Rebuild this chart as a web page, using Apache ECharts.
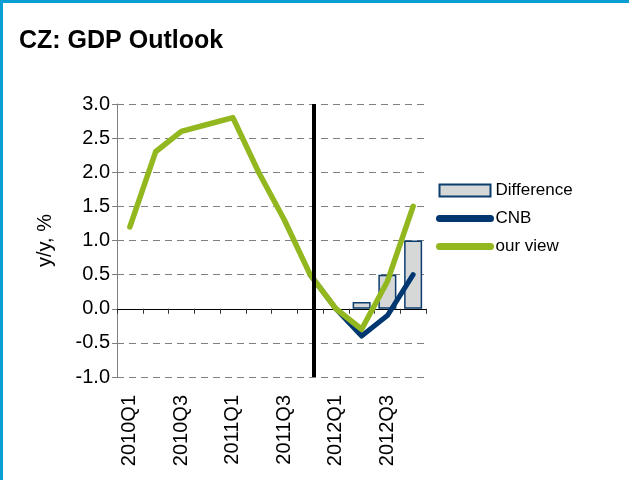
<!DOCTYPE html>
<html>
<head>
<meta charset="utf-8">
<script src="https://cdn.jsdelivr.net/npm/echarts@6/dist/echarts.min.js"></script>
<style>
  html, body { margin: 0; padding: 0; background: #fff; }
  #chart { position: absolute; left: 0; top: 0; width: 629px; height: 480px; }
  #frame { position: absolute; left: 0; top: 0; width: 629px; height: 480px; box-sizing: border-box;
           border-top: 3px solid #0a9fd3; border-left: 3px solid #0a9fd3; pointer-events: none; }
</style>
</head>
<body>
<div id="chart"></div>
<div id="frame"></div>
<script>
const categories = ['2010Q1','2010Q2','2010Q3','2010Q4','2011Q1','2011Q2','2011Q3','2011Q4','2012Q1','2012Q2','2012Q3','2012Q4'];
const difference = [null, null, null, null, null, null, null, null, null, 0.1, 0.5, 1.0];
const cnb        = [null, null, null, null, null, null, null, 0.5, 0.0, -0.4, -0.1, 0.5];
const ourView    = [1.2, 2.3, 2.6, 2.7, 2.8, 2.0, 1.3, 0.5, 0.0, -0.3, 0.4, 1.5];
const dividerPos = 7.65; // position of the forecast divider, in category units
const yTicks = { min: -1.0, max: 3.0, step: 0.5 };

const FONT = 'Liberation Sans, Arial, sans-serif';
const GREEN = '#93b71f';
const NAVY = '#003770';

const chart = echarts.init(document.getElementById('chart'), null, { renderer: 'canvas' });
chart.setOption({
  animation: false,
  backgroundColor: '#fff',
  title: {
    text: 'CZ: GDP Outlook',
    left: 14, top: 24,
    textStyle: { fontFamily: FONT, fontSize: 25, fontWeight: 'bold', color: '#000' }
  },
  legend: {
    orient: 'vertical',
    left: 436, top: 182, padding: 0,
    itemWidth: 51, itemHeight: 12, itemGap: 11,
    textStyle: { fontFamily: FONT, fontSize: 17, color: '#000' },
    data: [
      { name: 'Difference', icon: 'rect' },
      { name: 'CNB', lineStyle: { width: 7, cap: 'round' }, itemStyle: { opacity: 0 } },
      { name: 'our view', lineStyle: { width: 7, cap: 'round' }, itemStyle: { opacity: 0 } }
    ]
  },
  grid: { left: 117, right: 203, top: 104, bottom: 103, containLabel: false },
  xAxis: [
    {
      type: 'category', data: categories, boundaryGap: true,
      axisLine: { onZero: true, lineStyle: { color: '#000', width: 1 } },
      axisTick: { show: true, interval: 0, length: 5, lineStyle: { color: '#333' } },
      axisLabel: { show: false },
      splitLine: { show: false }
    },
    {
      type: 'category', data: categories, position: 'bottom', boundaryGap: true,
      axisLine: { show: false, onZero: false },
      axisTick: { show: false },
      axisLabel: { show: true, rotate: 90, interval: 1, margin: 18,
                   fontFamily: FONT, fontSize: 20, color: '#000' }
    },
    {
      type: 'value', min: 0, max: categories.length, show: false
    }
  ],
  yAxis: {
    type: 'value', min: yTicks.min, max: yTicks.max, interval: yTicks.step,
    name: 'y/y, %', nameLocation: 'middle', nameRotate: 90, nameGap: 62,
    nameTextStyle: { fontFamily: FONT, fontSize: 20, color: '#000' },
    axisLine: { show: true, lineStyle: { color: '#808080', width: 1 } },
    axisTick: { show: true, length: 5, lineStyle: { color: '#808080' } },
    axisLabel: { fontFamily: FONT, fontSize: 20, color: '#000', margin: 7,
                 formatter: v => v.toFixed(1) },
    splitLine: { show: true, lineStyle: { color: '#808080', type: [7, 5], width: 1 } }
  },
  series: [
    {
      name: 'divider', type: 'line', xAxisIndex: 2, data: [], z: 1,
      markLine: {
        silent: true, symbol: 'none', label: { show: false },
        lineStyle: { color: '#000', width: 4, type: 'solid' },
        data: [{ xAxis: dividerPos }]
      }
    },
    {
      name: 'Difference', type: 'bar', data: difference, barWidth: '70%', z: 2,
      itemStyle: { color: '#d6d8d8', borderColor: '#0b3d6e', borderWidth: 1.5 }
    },
    {
      name: 'CNB', type: 'line', data: cnb, symbol: 'none', z: 3,
      lineStyle: { color: NAVY, width: 5, cap: 'round', join: 'round' },
      itemStyle: { color: NAVY }
    },
    {
      name: 'our view', type: 'line', data: ourView, symbol: 'none', z: 4,
      lineStyle: { color: GREEN, width: 5.5, cap: 'round', join: 'round' },
      itemStyle: { color: GREEN }
    }
  ]
});
</script>
</body>
</html>
